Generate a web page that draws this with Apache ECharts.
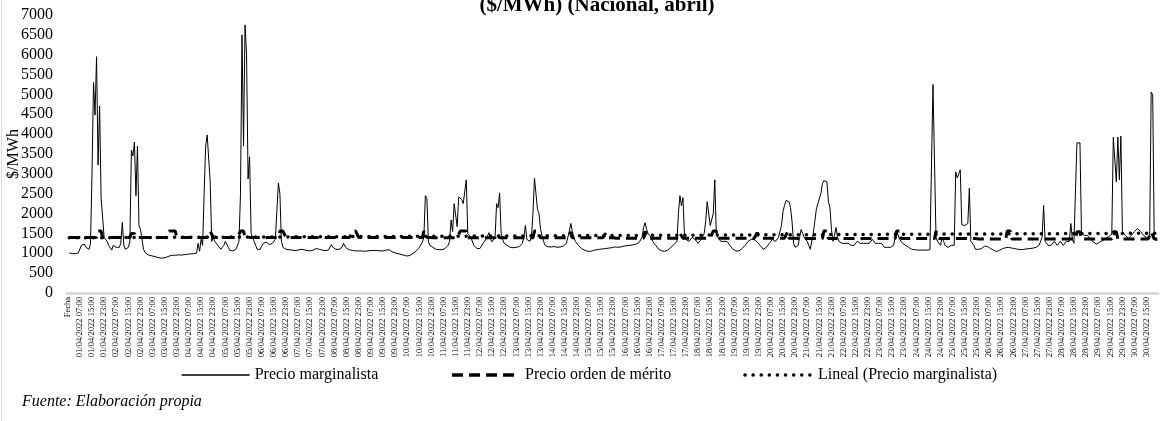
<!DOCTYPE html>
<html>
<head>
<meta charset="utf-8">
<script src="https://cdn.jsdelivr.net/npm/echarts@6/dist/echarts.min.js"></script>
<style>
  html, body { margin: 0; padding: 0; background: #fff; }
  #chart { width: 1162px; height: 421px; }
</style>
</head>
<body>
<div id="chart"></div>
<script>
const FONT = '"Liberation Serif", "Times New Roman", serif';

// Hourly marginal price ($/MWh), one row per day of April 2022 (00:00 ... 23:00)
const precioMarginalista = [
  [1010,1000,990,980,990,1000,1010,1050, 1200,1240,1230,1150,1100,1100,1250,3000, 5300,4480,5950,3220,4710,2400,2380,1400],
  [1400,1300,1200,1150,1080,1200,1250,1150, 1100,1150,1250,1780,1200,1100,1100,1150, 1300,3600,3450,3800,2450,3700,1700,1600],
  [1550,1100,1020,990,960,950,940,930, 920,910,900,890,880,870,880,890, 900,930,930,940,950,950,950,955],
  [960,950,955,960,965,970,975,980, 985,990,990,995,1000,1250,1050,1350, 1200,2500,3700,3980,3950,2800,1300,1400],
  [1300,1280,1200,1150,1100,1080,1200,1300, 1250,1150,1070,1060,1060,1070,1100,1150, 1300,2500,6500,3700,6750,6000,2870,3430],
  [1500,1400,1300,1200,1100,1070,1100,1180, 1250,1300,1280,1250,1220,1200,1250,1300, 1350,1400,2770,2500,1300,1150,1120,1100],
  [1100,1090,1080,1080,1070,1070,1070,1080, 1090,1100,1100,1090,1080,1070,1060,1060, 1070,1080,1100,1120,1110,1100,1090,1080],
  [1080,1070,1060,1080,1150,1220,1150,1120, 1100,1090,1100,1110,1150,1250,1180,1120, 1100,1090,1080,1070,1070,1060,1060,1060],
  [1060,1060,1050,1050,1050,1060,1070,1070, 1070,1070,1070,1070,1070,1060,1060,1060, 1070,1080,1110,1090,1060,1040,1020,1010],
  [1000,990,980,970,960,950,940,930, 930,950,970,1000,1030,1060,1100,1150, 1200,1280,1400,2450,2380,1300,1200,1150],
  [1150,1120,1100,1100,1090,1080,1090,1100, 1120,1150,1200,1300,1840,1550,2250,2290, 1670,2420,2470,2350,2250,2300,2850,1500],
  [1450,1400,1350,1200,1150,1120,1100,1120, 1180,1250,1300,1350,1400,1520,1350,1290, 1320,1400,2250,2150,2520,1500,1350,1250],
  [1250,1200,1170,1150,1150,1140,1150,1150, 1160,1170,1200,1250,1400,1700,1350,1300, 1300,1400,2000,2890,2500,2100,2000,1600],
  [1450,1300,1200,1180,1160,1150,1160,1180, 1170,1160,1150,1150,1160,1170,1180,1200, 1250,1400,1550,1750,1550,1400,1300,1250],
  [1200,1150,1120,1100,1080,1060,1050,1050, 1050,1060,1070,1080,1090,1100,1100,1100, 1110,1110,1120,1120,1130,1130,1140,1150],
  [1160,1150,1150,1150,1160,1170,1180,1180, 1190,1200,1200,1200,1210,1220,1230,1250, 1270,1300,1400,1650,1770,1600,1500,1450],
  [1400,1300,1250,1200,1150,1100,1080,1060, 1050,1050,1060,1080,1100,1150,1200,1220, 1250,1300,2000,2450,2200,2400,1450,1350],
  [1350,1300,1350,1400,1450,1350,1300,1250, 1300,1350,1400,1500,1800,2300,2250,1700, 1650,2000,2850,1500,1400,1350,1300,1250],
  [1300,1320,1300,1250,1200,1150,1100,1080, 1060,1050,1060,1080,1120,1150,1200,1250, 1300,1330,1350,1400,1350,1300,1280,1250],
  [1200,1150,1100,1100,1150,1200,1250,1300, 1350,1380,1300,1350,1400,1450,1700,2050, 2200,2330,2360,2300,2150,1800,1250,1150],
  [1100,1200,1400,1600,1500,1400,1350,1300, 1200,1100,1050,1500,1800,2100,2250,2300, 2500,2750,2830,2850,2800,2300,2150,1600],
  [1300,1450,1650,1400,1300,1350,1250,1300, 1250,1200,1250,1300,1200,1150,1200,1250, 1300,1350,1250,1200,1250,1300,1250,1250],
  [1250,1300,1350,1300,1250,1200,1250,1300, 1250,1200,1150,1150,1150,1150,1150,1150, 1200,1400,1550,1500,1350,1300,1250,1200],
  [1200,1180,1150,1120,1100,1100,1090,1080, 1080,1080,1080,1080,1080,1080,1080,1080, 1090,1100,5250,5230,1400,1300,1250,1200],
  [1400,1300,1200,1170,1150,1170,1200,1180, 1200,3050,2900,3000,3100,1720,1700,1700, 1720,1750,2640,1300,1250,1200,1100,1050],
  [1100,1100,1120,1150,1180,1200,1170,1150, 1120,1100,1080,1050,1040,1060,1080,1100, 1120,1130,1140,1150,1150,1140,1130,1120],
  [1120,1110,1100,1100,1090,1090,1100,1100, 1110,1120,1120,1120,1130,1140,1150,1170, 1200,1250,1400,2200,1300,1250,1200,1200],
  [1200,1250,1300,1250,1200,1250,1300,1250, 1200,1250,1300,1280,1300,1750,1350,1250, 1300,3780,3800,3780,1500,1450,1450,1450],
  [1450,1400,1350,1300,1280,1250,1230,1250, 1280,1300,1320,1350,1380,1400,1420,1450, 1480,3920,3900,2800,3930,2850,3950,1550],
  [1500,1450,1400,1380,1400,1450,1500,1550, 1600,1620,1600,1550,1500,1450,1400,1400, 1450,1400,5060,5000,1400,1330,1330]
];

// Hourly merit-order price ($/MWh), same layout
const precioOrdenMerito = [
  [1400,1400,1400,1400,1400,1400,1400,1400, 1400,1400,1400,1400,1400,1400,1400,1400, 1400,1400,1400,1560,1560,1560,1400,1400],
  [1400,1400,1400,1400,1400,1400,1400,1400, 1400,1400,1400,1400,1400,1400,1400,1400, 1400,1500,1500,1500,1400,1400,1400,1400],
  [1400,1400,1400,1400,1400,1400,1400,1400, 1400,1400,1400,1400,1400,1400,1400,1400, 1400,1400,1560,1560,1560,1560,1560,1400],
  [1400,1400,1400,1400,1400,1400,1400,1400, 1400,1400,1400,1400,1400,1400,1400,1400, 1400,1400,1400,1400,1400,1560,1560,1400],
  [1400,1400,1400,1400,1400,1400,1400,1400, 1400,1400,1400,1400,1400,1400,1400,1400, 1400,1560,1560,1560,1400,1400,1400,1400],
  [1400,1400,1400,1400,1400,1400,1400,1400, 1400,1400,1400,1400,1400,1400,1400,1400, 1400,1400,1400,1560,1560,1560,1560,1400],
  [1400,1400,1400,1400,1400,1400,1400,1400, 1400,1400,1400,1400,1400,1400,1400,1400, 1400,1400,1400,1400,1400,1400,1400,1400],
  [1400,1400,1400,1400,1400,1400,1400,1400, 1400,1400,1400,1400,1400,1400,1400,1400, 1400,1400,1400,1560,1560,1560,1560,1400],
  [1400,1400,1400,1400,1400,1400,1400,1400, 1400,1400,1400,1400,1400,1400,1400,1400, 1400,1400,1400,1400,1400,1400,1400,1400],
  [1400,1400,1400,1400,1400,1400,1400,1400, 1400,1400,1400,1400,1400,1400,1400,1400, 1400,1400,1560,1560,1400,1400,1400,1400],
  [1390,1390,1390,1390,1390,1390,1390,1390, 1390,1390,1390,1390,1390,1390,1390,1390, 1390,1390,1560,1560,1560,1560,1560,1390],
  [1390,1390,1390,1390,1390,1390,1390,1390, 1390,1390,1390,1390,1390,1390,1390,1390, 1390,1390,1500,1500,1390,1390,1390,1390],
  [1390,1390,1390,1390,1390,1390,1390,1390, 1390,1390,1390,1390,1390,1390,1390,1390, 1390,1390,1390,1560,1560,1560,1560,1390],
  [1390,1390,1390,1390,1390,1390,1390,1390, 1390,1390,1390,1390,1390,1390,1390,1390, 1390,1390,1390,1540,1390,1390,1390,1390],
  [1390,1390,1390,1390,1390,1390,1390,1390, 1390,1390,1390,1390,1390,1390,1390,1390, 1390,1390,1500,1390,1390,1390,1390,1390],
  [1380,1380,1380,1380,1380,1380,1380,1380, 1380,1380,1380,1380,1380,1380,1380,1380, 1380,1380,1380,1380,1550,1550,1380,1380],
  [1380,1380,1380,1380,1380,1380,1380,1380, 1380,1380,1380,1380,1380,1380,1380,1380, 1380,1380,1380,1500,1500,1380,1380,1380],
  [1380,1380,1380,1380,1380,1380,1380,1380, 1380,1380,1380,1380,1380,1380,1380,1380, 1380,1560,1560,1560,1380,1380,1380,1380],
  [1380,1380,1380,1380,1380,1380,1380,1380, 1380,1380,1380,1380,1380,1380,1380,1380, 1380,1380,1380,1380,1380,1380,1520,1520],
  [1380,1380,1380,1380,1380,1380,1380,1380, 1380,1380,1380,1380,1380,1380,1380,1380, 1380,1380,1540,1380,1380,1380,1380,1380],
  [1370,1370,1370,1370,1370,1370,1370,1370, 1370,1370,1370,1370,1370,1370,1370,1370, 1370,1370,1560,1560,1560,1370,1370,1370],
  [1370,1370,1370,1370,1370,1370,1370,1370, 1370,1370,1370,1370,1370,1370,1370,1370, 1370,1370,1370,1370,1370,1370,1370,1370],
  [1370,1370,1370,1370,1370,1370,1370,1370, 1370,1370,1370,1370,1370,1370,1370,1370, 1370,1370,1560,1560,1560,1370,1370,1370],
  [1370,1370,1370,1370,1370,1370,1370,1370, 1370,1370,1370,1370,1370,1370,1370,1370, 1370,1370,1370,1370,1560,1560,1370,1370],
  [1370,1370,1370,1370,1370,1370,1370,1370, 1370,1370,1370,1370,1370,1370,1370,1370, 1370,1370,1370,1370,1370,1370,1370,1370],
  [1360,1360,1360,1360,1360,1360,1360,1360, 1360,1360,1360,1360,1360,1360,1360,1360, 1360,1360,1360,1560,1560,1560,1360,1360],
  [1360,1360,1360,1360,1360,1360,1360,1360, 1360,1360,1360,1360,1360,1360,1360,1360, 1360,1360,1360,1360,1360,1360,1360,1360],
  [1360,1360,1360,1360,1360,1360,1360,1360, 1360,1360,1360,1360,1360,1360,1360,1360, 1360,1540,1540,1540,1360,1360,1360,1360],
  [1360,1360,1360,1360,1360,1360,1360,1360, 1360,1360,1360,1360,1360,1360,1360,1360, 1360,1540,1540,1540,1360,1360,1360,1360],
  [1360,1360,1360,1360,1360,1360,1360,1360, 1360,1360,1360,1360,1360,1360,1360,1360, 1360,1360,1540,1540,1360,1360,1360]
];

// Linear trend of the marginal price: value at the first and at the last hour
const tendenciaLineal = [1390, 1505];

// Axis settings
const yMin = 0, yMax = 7000, yPaso = 500;
const pasoEtiquetas = 8; // one date label every 8 hours

// Category labels: header cell followed by one label per hour
const marginal = [].concat(...precioMarginalista);
const merito = [].concat(...precioOrdenMerito);
const categorias = ['Fecha'];
for (let d = 1; d <= 30; d++) {
  for (let h = 0; h < 24; h++) {
    if (categorias.length > marginal.length) break;
    const dd = String(d).padStart(2, '0');
    const hh = String(h).padStart(2, '0');
    categorias.push(dd + '/04/2022 ' + hh + ':00');
  }
}

const chart = echarts.init(document.getElementById('chart'), null, { renderer: 'canvas' });

chart.setOption({
  animation: false,
  backgroundColor: '#fff',
  textStyle: { fontFamily: FONT, color: '#000' },
  title: {
    text: '($/MWh) (Nacional, abril)',
    left: 592,
    top: -10,
    textAlign: 'center',
    textStyle: { fontFamily: FONT, fontSize: 21, fontWeight: 'bold', color: '#000' }
  },
  grid: { left: 67, right: 4, top: 15, bottom: 128, containLabel: false, outerBoundsMode: 'none' },
  legend: {
    left: 176,
    top: 362,
    itemWidth: 68,
    itemHeight: 14,
    itemGap: 72,
    itemStyle: { opacity: 0 },
    textStyle: { fontFamily: FONT, fontSize: 16, color: '#000' },
    data: [
      { name: 'Precio marginalista', lineStyle: { width: 1.3 } },
      { name: 'Precio orden de mérito', lineStyle: { width: 3.5 } },
      { name: 'Lineal (Precio marginalista)', lineStyle: { width: 3.5 } }
    ]
  },
  xAxis: {
    type: 'category',
    data: categorias,
    boundaryGap: true,
    axisLine: { show: true, lineStyle: { color: '#d9d9d9', width: 3 } },
    axisTick: { show: false },
    splitLine: { show: false },
    axisLabel: {
      interval: (i) => i % pasoEtiquetas === 0,
      rotate: 90,
      margin: 4,
      fontFamily: FONT,
      fontSize: 8.5,
      color: '#000',
      hideOverlap: false
    }
  },
  yAxis: {
    type: 'value',
    min: yMin,
    max: yMax,
    interval: yPaso,
    name: '$/MWh',
    nameLocation: 'middle',
    nameRotate: 90,
    nameGap: 45,
    nameMoveOverlap: false,
    nameTextStyle: { fontFamily: FONT, fontSize: 16, color: '#000' },
    axisLine: { show: false },
    axisTick: { show: false },
    splitLine: { show: false },
    axisLabel: {
      fontFamily: FONT, fontSize: 16, color: '#000', margin: 14,
      formatter: (v) => String(v)
    }
  },
  series: [
    {
      name: 'Precio marginalista',
      type: 'line',
      data: [null].concat(marginal),
      symbol: 'none',
      sampling: false,
      lineStyle: { color: '#000', width: 1 },
      itemStyle: { color: '#000' },
      z: 3
    },
    {
      name: 'Precio orden de mérito',
      type: 'line',
      data: [null].concat(merito),
      symbol: 'none',
      lineStyle: { color: '#000', width: 3, type: [11, 6] },
      itemStyle: { color: '#000' },
      z: 2
    },
    {
      name: 'Lineal (Precio marginalista)',
      type: 'line',
      data: [
        [categorias[1], tendenciaLineal[0]],
        [categorias[categorias.length - 1], tendenciaLineal[1]]
      ],
      symbol: 'none',
      lineStyle: { color: '#000', width: 3.5, type: [0.1, 8], cap: 'round' },
      itemStyle: { color: '#000' },
      z: 4
    }
  ],
  graphic: [
    {
      type: 'line',
      shape: { x1: 1.5, y1: 0, x2: 1.5, y2: 421 },
      style: { stroke: '#d9d9d9', lineWidth: 1 },
      silent: true
    },
    {
      type: 'text',
      left: 22,
      top: 394,
      style: { text: 'Fuente: Elaboración propia', font: 'italic 16px "Liberation Serif"', fill: '#000' },
      silent: true
    }
  ]
});
</script>
</body>
</html>
